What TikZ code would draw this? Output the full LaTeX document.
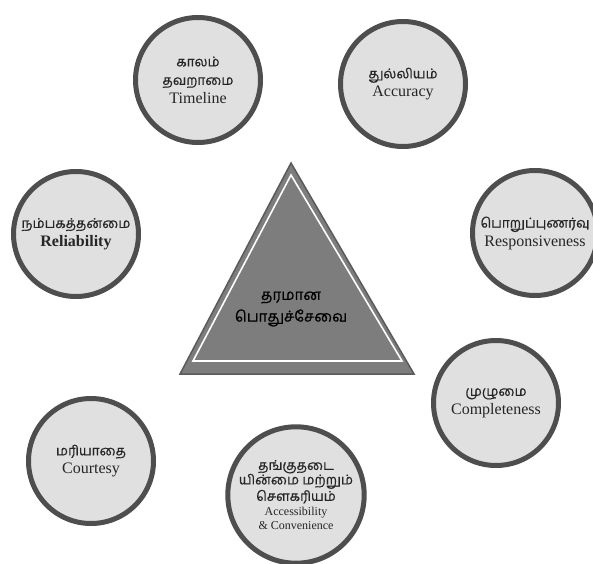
\documentclass[tikz,border=0pt]{standalone}
\usepackage{fontspec}
\usepackage{tikz}
\usetikzlibrary{positioning}
\setmainfont{Liberation Serif}
\newfontfamily\tamilfont[Script=Tamil, FakeBold=0.6]{Hind Madurai}
\definecolor{qsring}{RGB}{78, 78, 78}
\definecolor{qsfill}{RGB}{224, 224, 224}
\definecolor{qstri}{RGB}{125, 125, 125}
\definecolor{qstriedge}{RGB}{90, 90, 90}
\newcommand{\tam}[1]{{\tamilfont\fontsize{13.5}{18}\selectfont #1}}
\newcommand{\bigtam}[1]{{\tamilfont\fontsize{15}{20}\selectfont #1}}
\tikzset{
    qualnode/.style={circle, draw=qsring, line width=5pt, fill=qsfill, minimum size=125pt,
        inner sep=1pt, align=center, text=black!85, font=\fontsize{16}{18.5}\selectfont},
    smallqual/.style={qualnode, font=\fontsize{12}{14.5}\selectfont}
}

\begin{document}
\begin{tikzpicture}[x=1pt, y=1pt]
    \useasboundingbox (0,0) rectangle (593,563);
    % centre triangle
    \coordinate (ta) at (291,400);
    \coordinate (tl) at (180,189);
    \coordinate (tr) at (414,189);
    \coordinate (ia) at (291,388);
    \coordinate (il) at (193,202);
    \coordinate (ir) at (402,202);
    \filldraw[fill=qstri, draw=qstriedge, line width=1.5pt, line join=miter] (ta) -- (tl) -- (tr) -- cycle;
    \draw[white, line width=1.6pt] (ia) -- (il) -- (ir) -- cycle;
    \node[align=center] (core) at (291,254) {\bigtam{தரமான}\\[5pt]\bigtam{பொதுச்சேவை}};
    % quality circles
    \node[qualnode] (timeline) at (198,483) {\tam{காலம்}\\\tam{தவறாமை}\\Timeline};
    \node[qualnode] (accuracy) at (403,479) {\tam{துல்லியம்}\\Accuracy};
    \node[qualnode] (reliab) at (76,329) {\tam{நம்பகத்தன்மை}\\\textbf{Reliability}};
    \node[qualnode] (respons) at (535,330) {\tam{பொறுப்புணர்வு}\\Responsiveness};
    \node[qualnode] (complete) at (496,160) {\tam{முழுமை}\\Completeness};
    \node[qualnode] (courtesy) at (91,102) {\tam{மரியாதை}\\Courtesy};
    \node[smallqual] (access) at (296,68) {\tam{தங்குதடை}\\\tam{யின்மை மற்றும்}\\\tam{சௌகரியம்}\\Accessibility\\\& Convenience};
\end{tikzpicture}
\end{document}
